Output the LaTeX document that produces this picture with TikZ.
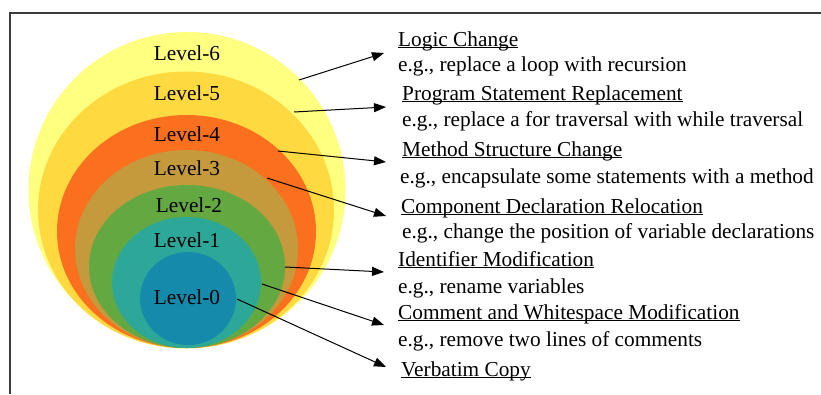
\documentclass[tikz,border=0pt]{standalone}
\usepackage{fontspec}
\setmainfont{Liberation Serif}
\usetikzlibrary{arrows.meta}
\definecolor{cL6}{RGB}{255,255,128}
\definecolor{cL5}{RGB}{255,217,64}
\definecolor{cL4}{RGB}{250,112,30}
\definecolor{cL3}{RGB}{196,154,60}
\definecolor{cL2}{RGB}{100,168,65}
\definecolor{cL1}{RGB}{45,168,152}
\definecolor{cL0}{RGB}{22,138,170}
\definecolor{framegray}{RGB}{60,60,60}
\newcommand\myul[1]{\underline{\smash{#1}}}
\tikzset{
  lvl/.style={font=\fontsize{21.3}{24}\selectfont, text=black, inner sep=0pt},
  desc/.style={font=\fontsize{21.3}{24}\selectfont, anchor=base west, inner sep=0pt},
  conn/.style={-{Triangle[length=12pt,width=9pt]}, line width=1pt, black},
}
\begin{document}
\begin{tikzpicture}[x=1pt,y=-1pt]
\useasboundingbox (0,0) rectangle (821,394);
% frame
\draw[framegray, line width=1.3pt] (10,394) -- (10,13) -- (821,13);
% nested ellipses
\fill[cL6] (187,190) ellipse [x radius=158.5, y radius=158];
\fill[cL5] (186,210) ellipse [x radius=148, y radius=138.5];
\fill[cL4] (186.5,231.5) ellipse [x radius=129.5, y radius=116.5];
\fill[cL3] (186.5,249) ellipse [x radius=111.5, y radius=99];
\fill[cL2] (187,266.5) ellipse [x radius=98, y radius=81.5];
\fill[cL1] (186.5,282.5) ellipse [x radius=74.5, y radius=65.5];
\fill[cL0] (188,298.5) ellipse [x radius=48, y radius=46.5];
% level labels
\node[lvl] (l6) at (187,53) {Level-6};
\node[lvl] (l5) at (187,93) {Level-5};
\node[lvl] (l4) at (187,134) {Level-4};
\node[lvl] (l3) at (187,168) {Level-3};
\node[lvl] (l2) at (189,205) {Level-2};
\node[lvl] (l1) at (187,240) {Level-1};
\node[lvl] (l0) at (187,297) {Level-0};
% descriptions
\node[desc] (t6) at (398,46) {\myul{Logic Change}};
\node[desc] (e6) at (398,71) {e.g., replace a loop with recursion};
\node[desc] (t5) at (402,100) {\myul{Program Statement Replacement}};
\node[desc] (e5) at (402,126) {e.g., replace a for traversal with while traversal};
\node[desc] (t4) at (402,156) {\myul{Method Structure Change}};
\node[desc] (e4) at (400,183) {e.g., encapsulate some statements with a method};
\node[desc] (t3) at (401,213) {\myul{Component Declaration Relocation}};
\node[desc] (e3) at (402,238) {e.g., change the position of variable declarations};
\node[desc] (t2) at (398,266) {\myul{Identifier Modification}};
\node[desc] (e2) at (398,293) {e.g., rename variables};
\node[desc] (t1) at (398,319) {\myul{Comment and Whitespace Modification}};
\node[desc] (e1) at (398,346) {e.g., remove two lines of comments};
\node[desc] (t0) at (401,376) {\myul{Verbatim Copy}};
% arrow coordinates
\coordinate (s6) at (299,80);  \coordinate (a6) at (384,53);
\coordinate (s5) at (294,112); \coordinate (a5) at (386,107);
\coordinate (s4) at (278,151); \coordinate (a4) at (386,162);
\coordinate (s3) at (267,178); \coordinate (a3) at (386,216);
\coordinate (s2) at (285,267); \coordinate (a2) at (384,272);
\coordinate (s1) at (262,284); \coordinate (a1) at (384,325);
\coordinate (s0) at (237,299); \coordinate (a0) at (386,367);
\foreach \i in {0,...,6} {\draw[conn] (s\i) -- (a\i);}
\end{tikzpicture}
\end{document}
